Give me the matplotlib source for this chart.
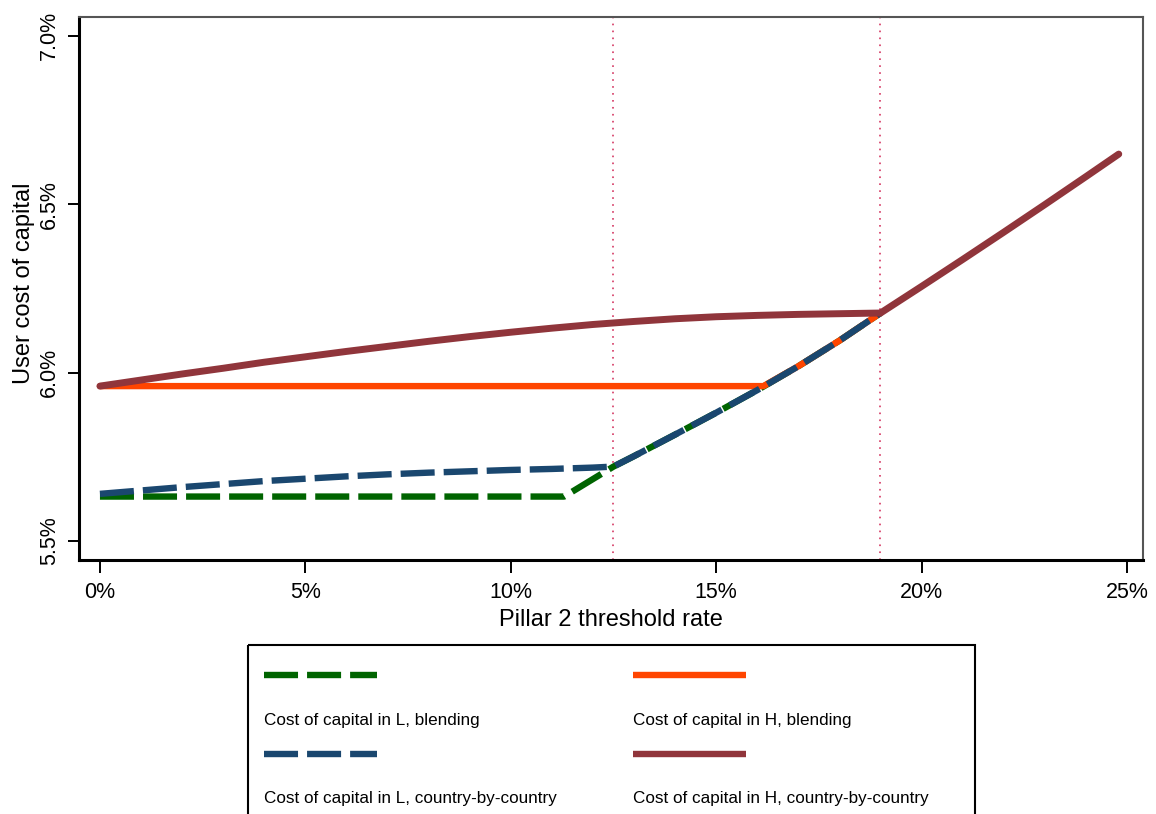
import matplotlib
matplotlib.use("Agg")
import matplotlib.pyplot as plt
from matplotlib.patches import Rectangle

plt.rcParams['font.family'] = ['Liberation Sans', 'DejaVu Sans']
plt.rcParams['lines.scale_dashes'] = False

# Pillar 2 threshold rate (%) and user cost of capital (%)
x_l_blend = [0, 2, 4, 6, 8, 10, 11.3, 12.5, 13, 14, 15, 16, 17, 18, 19]
y_l_blend = [5.632, 5.632, 5.632, 5.632, 5.632, 5.632, 5.632, 5.721,
             5.752, 5.816, 5.881, 5.948, 6.019, 6.095, 6.177]

x_l_cbc = [0, 1, 2, 3, 4, 5, 6, 7, 8, 9, 10, 11, 12, 12.5,
           13, 14, 15, 16, 17, 18, 19]
y_l_cbc = [5.640, 5.650, 5.660, 5.669, 5.678, 5.685, 5.692, 5.698, 5.703,
           5.707, 5.711, 5.714, 5.718, 5.721,
           5.752, 5.816, 5.881, 5.948, 6.019, 6.095, 6.177]

x_h_blend = [0, 4, 8, 12, 16.15, 17, 18, 19]
y_h_blend = [5.960, 5.960, 5.960, 5.960, 5.960, 6.019, 6.095, 6.177]

x_h_cbc = [0, 1, 2, 3, 4, 5, 6, 7, 8, 9, 10, 11, 12, 13, 14, 15, 16, 17, 18,
           19, 20, 21, 22, 23, 24, 24.8]
y_h_cbc = [5.960, 5.978, 5.996, 6.013, 6.031, 6.047, 6.063, 6.078, 6.093,
           6.107, 6.120, 6.132, 6.143, 6.152, 6.160, 6.166, 6.170, 6.173,
           6.175, 6.177, 6.256, 6.336, 6.417, 6.499, 6.582, 6.649]

thresholds = [12.5, 19]

x_ticks = [0, 5, 10, 15, 20, 25]
x_ticklabels = ["0%", "5%", "10%", "15%", "20%", "25%"]
y_ticks = [5.5, 6.0, 6.5, 7.0]
y_ticklabels = ["5.5%", "6.0%", "6.5%", "7.0%"]

labels = ["Cost of capital in L, blending",
          "Cost of capital in H, blending",
          "Cost of capital in L, country-by-country",
          "Cost of capital in H, country-by-country"]

green = "#006400"
navy = "#1a476f"
orange = "#ff4500"
maroon = "#90353b"
dash = (0, (24.5, 6.5))

fig = plt.figure(figsize=(11.56, 8.14), dpi=100)
ax = fig.add_axes([79 / 1156, 1 - 560 / 814, (1143 - 79) / 1156, (560 - 16.7) / 814])

for xv in thresholds:
    ax.axvline(xv, color="#d8466e", lw=1.3, linestyle=(0, (1.2, 3.8)), zorder=0.5)

ax.plot(x_l_blend, y_l_blend, color=green, lw=4.6, linestyle=dash, zorder=1)
ax.plot(x_h_blend, y_h_blend, color=orange, lw=4.6, solid_capstyle="round", zorder=2)
ax.plot(x_l_cbc, y_l_cbc, color=navy, lw=4.6, linestyle=dash, zorder=3)
ax.plot(x_h_cbc, y_h_cbc, color=maroon, lw=5, solid_capstyle="round", zorder=4)

ax.set_xlim(-0.51, 25.39)
ax.set_ylim(5.4436, 7.057)
ax.set_xticks(x_ticks)
ax.set_xticklabels(x_ticklabels, fontsize=15.5)
ax.set_yticks(y_ticks)
ax.set_yticklabels(y_ticklabels, fontsize=15.5, rotation=90, va="center")
ax.tick_params(axis="x", length=9, width=1.4, pad=7)
ax.tick_params(axis="y", length=8, width=1.4, pad=5.5)
ax.set_xlabel("Pillar 2 threshold rate", fontsize=17, labelpad=4)
ax.set_ylabel("User cost of capital", fontsize=17)
ax.yaxis.set_label_coords(-0.0415, 0.51)

for s in ["left", "bottom"]:
    ax.spines[s].set_linewidth(2.2)
    ax.spines[s].set_color("black")
for s in ["top", "right"]:
    ax.spines[s].set_linewidth(1.5)
    ax.spines[s].set_color("#555555")

# legend drawn in pixel coordinates, sample above label (Stata style)
lax = fig.add_axes([0, 0, 1, 1])
lax.set_xlim(0, 1156)
lax.set_ylim(814, 0)
lax.axis("off")
lax.add_patch(Rectangle((248, 645), 727, 200, fill=False, ec="black", lw=1.5))

styles = [(green, dash), (orange, "-"), (navy, dash), (maroon, "-")]
cols = [264, 633]
sample_y = [675, 754]
text_y = [721, 799]
for i, (lab, (c, ls)) in enumerate(zip(labels, styles)):
    cx = cols[i % 2]
    r = i // 2
    lax.plot([cx, cx + 113], [sample_y[r], sample_y[r]], color=c, lw=4.6,
             linestyle=ls, solid_capstyle="butt")
    lax.text(cx, text_y[r], lab, fontsize=12.3, va="center", ha="left")

fig.savefig("out.png", dpi=100)
